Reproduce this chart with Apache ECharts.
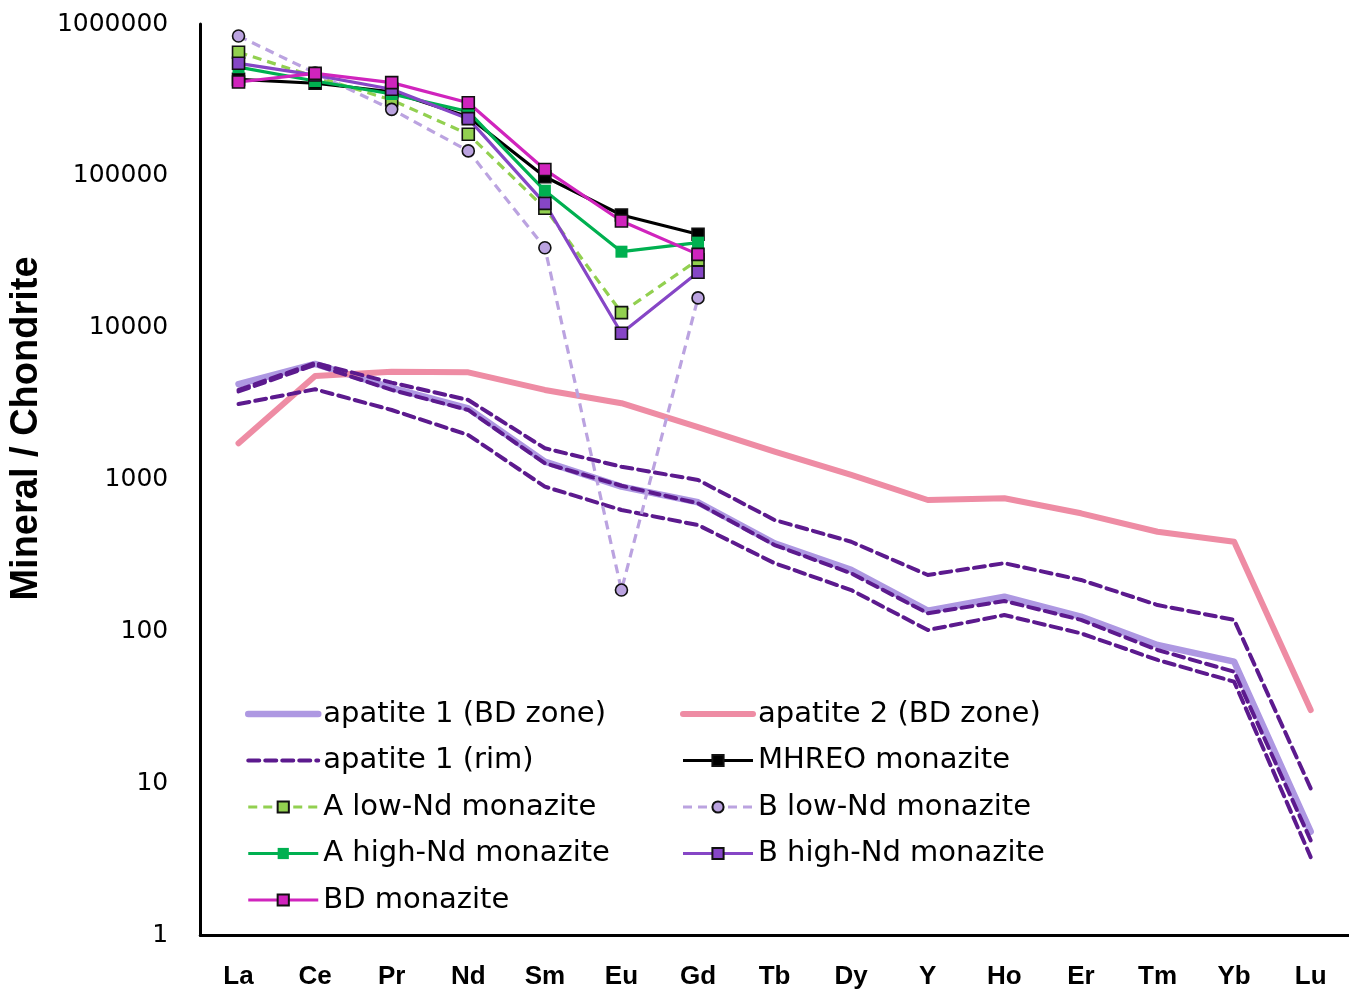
<!DOCTYPE html>
<html>
<head>
<meta charset="utf-8">
<script src="https://cdn.jsdelivr.net/npm/echarts@6/dist/echarts.min.js"></script>
<style>
  html, body { margin: 0; padding: 0; background: #fff; }
  #chart { width: 1349px; height: 993px; }
</style>
</head>
<body>
<div id="chart"></div>
<script>
// REE patterns normalised to chondrite
const categories = ['La', 'Ce', 'Pr', 'Nd', 'Sm', 'Eu', 'Gd', 'Tb', 'Dy', 'Y', 'Ho', 'Er', 'Tm', 'Yb', 'Lu'];
const yTicks = [1, 10, 100, 1000, 10000, 100000, 1000000];

const apatite1BD = [4240, 5770, 4010, 2940, 1310, 897, 708, 380, 254, 137, 169, 125, 81.3, 63.1, 4.79];
const apatite2BD = [1730, 4810, 5130, 5080, 3890, 3180, 2210, 1525, 1071, 733, 752, 599, 453, 389, 30.3];
const apatite1RimA = [3890, 5850, 4345, 3340, 1606, 1214, 993, 541, 389, 235, 281, 218, 149, 119, 9.25];
const apatite1RimB = [3800, 5700, 3890, 2870, 1279, 910, 697, 370, 241, 131.5, 158.5, 119, 75.4, 54.2, 4.2];
const apatite1RimC = [3142, 3930, 2870, 1964, 897, 630, 501, 281, 187, 102, 128, 97, 64.8, 46.6, 3.26];

const mhreoMonazite = [432000, 407000, 358000, 245000, 98700, 55200, 41200];
const aLowNdMonazite = [651000, 450000, 316000, 188000, 61100, 12560, 28000];
const bLowNdMonazite = [834000, 475000, 274000, 146000, 33600, 187, 15700];
const aHighNdMonazite = [520000, 421000, 346000, 265000, 79800, 31650, 36300];
const bHighNdMonazite = [551000, 461000, 371600, 238000, 65900, 9180, 23170];
const bdMonazite = [415000, 473000, 411000, 303000, 110000, 50400, 30400];

const chart = echarts.init(document.getElementById('chart'), null, { renderer: 'canvas' });

const LEGEND_FONT = { fontFamily: 'DejaVu Sans', fontSize: 29, color: '#000' };

function plain(name, data, color, width, dash) {
  return {
    name: name, type: 'line', data: data, symbol: 'none', showSymbol: false,
    lineStyle: { color: color, width: width, type: dash || 'solid', cap: 'round', join: 'round' },
    itemStyle: { color: color },
    emphasis: { disabled: true }, animation: false
  };
}

function marked(name, data, color, symbol, dash, border) {
  return {
    name: name, type: 'line', data: data, symbol: symbol, symbolSize: 12,
    lineStyle: { color: color, width: 3.2, type: dash || 'solid' },
    itemStyle: { color: color, borderColor: border ? '#111' : color, borderWidth: border ? 1.6 : 0 },
    emphasis: { disabled: true }, animation: false
  };
}

const series = [
  plain('apatite 1 (BD zone)', apatite1BD, '#ae98e2', 6.5),
  plain('apatite 2 (BD zone)', apatite2BD, '#ee8ca4', 6),
  plain('apatite 1 (rim)', apatite1RimA, '#5c1a8e', 4, [11, 6]),
  plain('apatite 1 (rim)', apatite1RimB, '#5c1a8e', 4, [11, 6]),
  plain('apatite 1 (rim)', apatite1RimC, '#5c1a8e', 4, [11, 6]),
  marked('MHREO monazite', mhreoMonazite, '#000000', 'rect', null, true),
  marked('A low-Nd monazite', aLowNdMonazite, '#92d050', 'rect', [9, 6], true),
  marked('B low-Nd monazite', bLowNdMonazite, '#bba3e0', 'circle', [9, 6], true),
  marked('A high-Nd monazite', aHighNdMonazite, '#00b050', 'rect', null, false),
  marked('B high-Nd monazite', bHighNdMonazite, '#8646c6', 'rect', null, true),
  marked('BD monazite', bdMonazite, '#d024bd', 'rect', null, true)
];

// entries drawn as plain lines in the legend (no marker)
const lineOnly = ['apatite 1 (BD zone)', 'apatite 2 (BD zone)', 'apatite 1 (rim)'];

function legendBlock(left, names) {
  return {
    orient: 'vertical', left: left, top: 699, padding: 0,
    itemWidth: 70, itemHeight: 14, itemGap: 16.5,
    lineStyle: { width: 'inherit' },
    textStyle: Object.assign({ lineHeight: 30 }, LEGEND_FONT),
    data: names.map(function (n) {
      return lineOnly.indexOf(n) >= 0 ? { name: n, itemStyle: { opacity: 0 } } : { name: n };
    }),
    selectedMode: false
  };
}

chart.setOption({
  backgroundColor: '#ffffff',
  animation: false,
  grid: { left: 199, right: -6, top: 24, bottom: 58, containLabel: false },
  legend: [
    legendBlock(245, ['apatite 1 (BD zone)', 'apatite 1 (rim)', 'A low-Nd monazite', 'A high-Nd monazite', 'BD monazite']),
    legendBlock(680, ['apatite 2 (BD zone)', 'MHREO monazite', 'B low-Nd monazite', 'B high-Nd monazite'])
  ],
  xAxis: {
    type: 'category', data: categories, boundaryGap: true,
    axisLine: { show: true, lineStyle: { color: '#000', width: 3 } },
    axisTick: { show: false },
    axisLabel: { margin: 29, fontFamily: 'Liberation Sans', fontWeight: 'bold', fontSize: 26, color: '#000', interval: 0 },
    splitLine: { show: false }
  },
  yAxis: {
    type: 'log', logBase: 10, min: yTicks[0], max: yTicks[yTicks.length - 1],
    name: 'Mineral / Chondrite', nameLocation: 'middle', nameGap: 141,
    nameTextStyle: { fontFamily: 'Liberation Sans', fontWeight: 'bold', fontSize: 38, color: '#000', padding: [0, 0, 0, 102] },
    axisLine: { show: true, lineStyle: { color: '#000', width: 3 } },
    axisTick: { show: false },
    axisLabel: {
      margin: 32, fontFamily: 'DejaVu Sans', fontSize: 25, color: '#000',
      formatter: function (v) { return String(Math.round(v)); }
    },
    splitLine: { show: false }
  },
  series: series
});
</script>
</body>
</html>
